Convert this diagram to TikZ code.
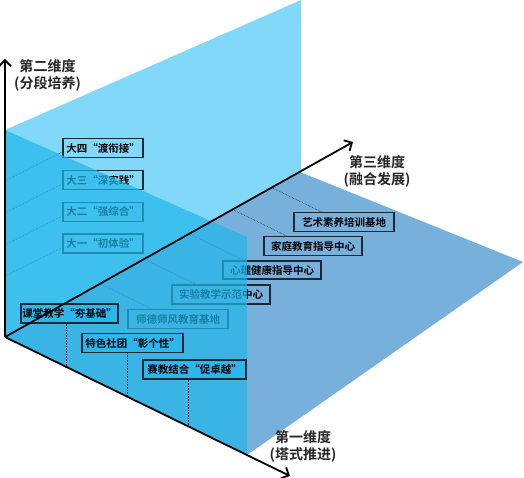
\documentclass[tikz,border=0pt]{standalone}
\usepackage{fontspec}
\newfontfamily\cjk{Noto Sans CJK SC}[BoldFont={Noto Sans CJK SC Bold}]
\usetikzlibrary{arrows.meta,calc}
\definecolor{backblue}{RGB}{130,216,248}
\definecolor{floorblue}{RGB}{120,176,220}
\definecolor{frontblue}{RGB}{33,183,234}
\definecolor{boxline}{RGB}{28,40,52}
\definecolor{boxfill}{RGB}{45,182,236}
\begin{document}
\begin{tikzpicture}[x=1pt,y=-1pt,
  lab/.style={font=\cjk\bfseries\fontsize{10.5}{12}\selectfont, draw=boxline, line width=1.3pt, minimum height=19pt, inner sep=0pt, text=black},
  frontlab/.style={lab, fill=boxfill},
  dimlab/.style={font=\cjk\bfseries\fontsize{14}{17}\selectfont, align=center, text=black!85},
  conn/.style={densely dotted, line width=0.6pt, draw=boxline},
  axisline/.style={line width=1.8pt, draw=black, -{Straight Barb[length=6pt,width=12pt]}}
]
\useasboundingbox (0,0) rectangle (524,478);
\fill[white] (0,0) rectangle (524,478);

% planes
\coordinate (O) at (5,337);
\fill[backblue] (5,130) -- (301,0) -- (301,172) -- (O) -- cycle;
\fill[floorblue] (O) -- (300,172) -- (523,262) -- (247,455) -- cycle;

% stage boxes (second dimension)
\node[lab, minimum width=80pt] (s4) at (103,148) {大四“渡衔接”};
\node[lab, minimum width=80pt] (s3) at (103,180) {大三“深实践”};
\node[lab, minimum width=80pt] (s2) at (103,212) {大二“强综合”};
\node[lab, minimum width=80pt] (s1) at (103,243.5) {大一“初体验”};
\coordinate (v4) at (5,181);
\coordinate (v3) at (5,213);
\coordinate (v2) at (5,245);
\coordinate (v1) at (5,276);
\draw[conn] ($(s4.west)+(0,4)$) -- (v4);
\draw[conn] ($(s3.west)+(0,4)$) -- (v3);
\draw[conn] ($(s2.west)+(0,4)$) -- (v2);
\draw[conn] ($(s1.west)+(0,4)$) -- (v1);

% third dimension boxes
\node[lab, minimum width=100pt] (t5) at (344,222) {艺术素养培训基地};
\node[lab, minimum width=98pt] (t4) at (313,246) {家庭教育指导中心};
\node[lab, minimum width=98pt, minimum height=18pt] (t3) at (272,270) {心理健康指导中心};
\node[lab, minimum width=98pt] (t2) at (221,294.5) {实验教学示范中心};
\node[lab, minimum width=100pt] (t1) at (178,319) {师德师风教育基地};
\coordinate (a5) at (271.8,187.6);
\coordinate (a4) at (232.7,209.5);
\coordinate (a3) at (189.3,233.8);
\coordinate (a2) at (144,259.2);
\coordinate (a1) at (100.2,283.7);
\draw[conn] ($(t5.north west)+(28,0)$) -- (a5);
\draw[conn] ($(t4.north west)+(23,0)$) -- (a4);
\draw[conn] ($(t3.north west)+(22,0)$) -- (a3);
\draw[conn] ($(t2.north west)+(25,0)$) -- (a2);
\draw[conn] ($(t1.north west)+(24,0)$) -- (a1);

% front plane
\fill[frontblue, fill opacity=0.7] (5,130) -- (247,237) -- (247,455) -- (O) -- cycle;

% first dimension boxes
\node[frontlab, minimum width=97pt] (f1) at (69.5,313.5) {课堂教学“夯基础”};
\node[frontlab, minimum width=101pt] (f2) at (132.5,343) {特色社团“彰个性”};
\node[frontlab, minimum width=103pt] (f3) at (194.5,369.5) {赛教结合“促卓越”};
\coordinate (b1) at (66,366.8);
\coordinate (b2) at (127,396.5);
\coordinate (b3) at (188,426);
\draw[conn] (f1.south -| b1) -- (b1);
\draw[conn] (f2.south -| b2) -- (b2);
\draw[conn] (f3.south -| b3) -- (b3);

% axes
\coordinate (tipV) at (5,59);
\coordinate (tipT) at (353,142);
\coordinate (tipF) at (290,476);
\draw[axisline] (O) -- (tipV);
\draw[axisline] (O) -- (tipT);
\draw[axisline] (O) -- (tipF);

% axis labels
\node[dimlab] (l2) at (47.5,75.5) {第二维度\\(分段培养)};
\node[dimlab] (l3) at (377,171.5) {第三维度\\(融合发展)};
\node[dimlab] (l1) at (303,446.5) {第一维度\\(塔式推进)};
\end{tikzpicture}
\end{document}
